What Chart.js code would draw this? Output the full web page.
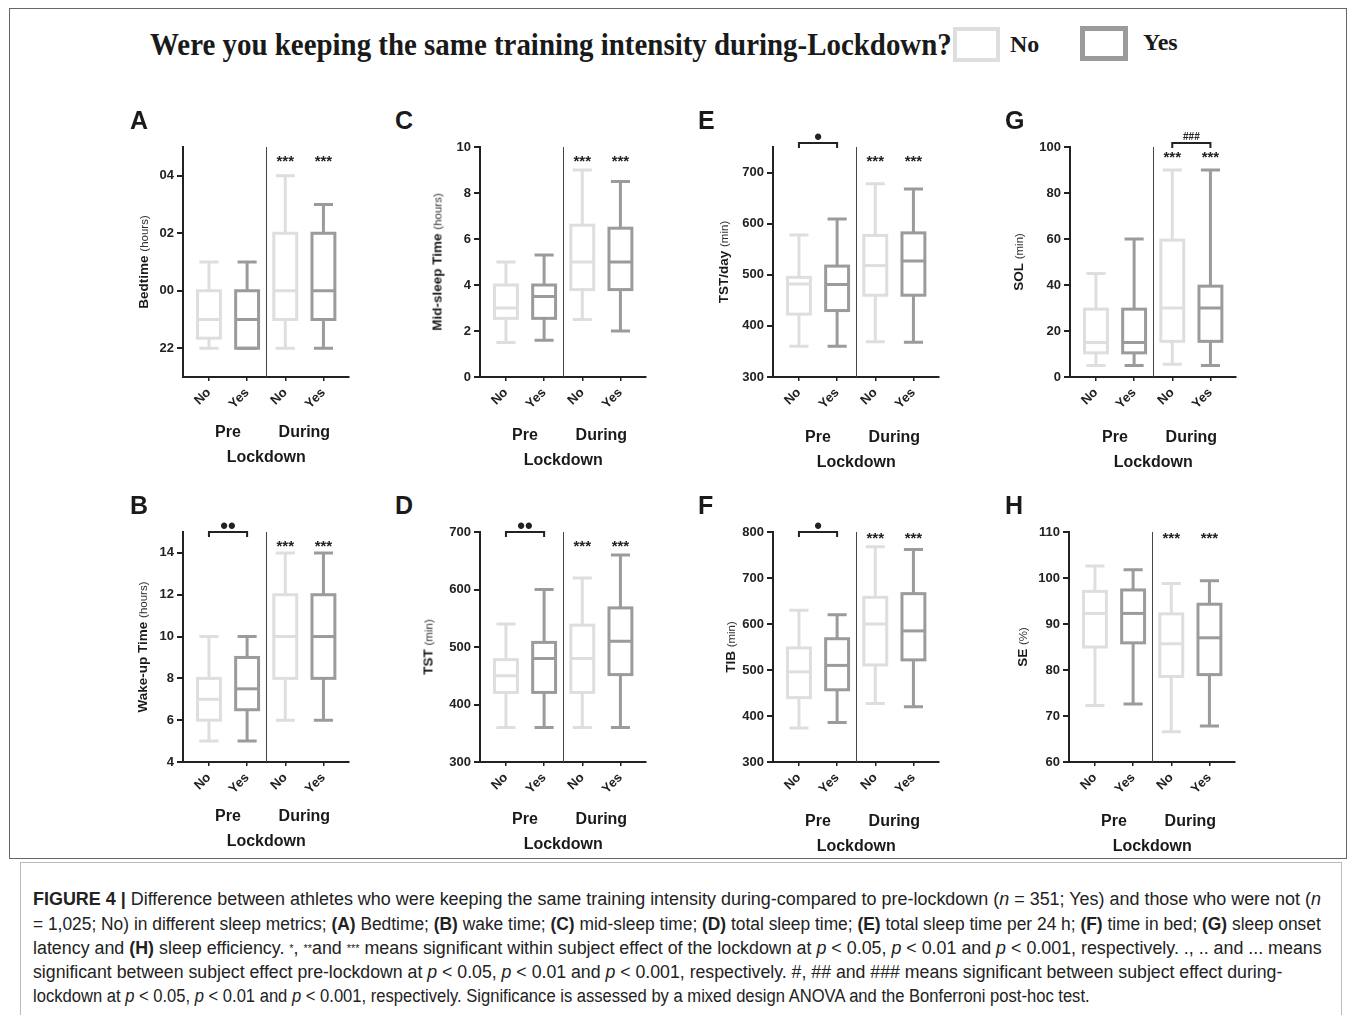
<!DOCTYPE html>
<html>
<head>
<meta charset="utf-8">
<script src="https://cdn.jsdelivr.net/npm/chart.js@4/dist/chart.umd.min.js"></script>
<style>
  body { margin: 0; background: #fff; width: 1355px; height: 1015px; position: relative; overflow: hidden;
         font-family: 'Liberation Sans', Arial, sans-serif; color: #1a1a1a; }
  .abs { position: absolute; white-space: nowrap; }
  .frame { position: absolute; left: 9px; top: 8px; width: 1336px; height: 849px; border: 1px solid #666; }
  .header { font-family: 'Liberation Serif', 'Times New Roman', serif; font-weight: bold; font-size: 31px;
            line-height: 34px; transform-origin: left center; }
  .legbox { position: absolute; box-sizing: border-box; }
  .legtxt { font-family: 'Liberation Serif', 'Times New Roman', serif; font-weight: bold; font-size: 24px; }
  .letter { font-weight: bold; font-size: 25px; line-height: 28px; }
  .ytitle { transform: translate(-50%, -50%) rotate(-90deg); font-size: 13.5px; }
  .ytitle b { font-weight: bold; }
  .ytitle span { font-size: 11.5px; color: #333; }
  .xlab { transform: translate(-50%, -50%); font-weight: bold; font-size: 16px; }
  .panel { position: absolute; }
  .capbox { position: absolute; left: 20px; top: 862px; width: 1320px; height: 170px; border: 1px solid #bbb; }
  .cap { position: absolute; left: 33px; font-size: 18px; line-height: 24px; color: #222; white-space: nowrap;
         transform-origin: left center; }
  .cap b { font-weight: bold; }
  .cap small { font-size: 11px; vertical-align: 2px; }
</style>
</head>
<body>
<div class="frame"></div>
<div id="header" class="abs header" style="left:150px; top:28px;">Were you keeping the same training intensity during-Lockdown?</div>
<div class="legbox" style="left:953px; top:27px; width:47px; height:35px; border:4px solid #dedede;"></div>
<div class="abs legtxt" style="left:1010px; top:31px;">No</div>
<div class="legbox" style="left:1080px; top:26px; width:48px; height:35px; border:5px solid #9b9b9b;"></div>
<div class="abs legtxt" style="left:1143px; top:29px;">Yes</div>

<div class="capbox"></div>
<div class="cap" data-w="1288" style="top:887px;"><b>FIGURE 4 |</b> Difference between athletes who were keeping the same training intensity during-compared to pre-lockdown (<i>n</i> = 351; Yes) and those who were not (<i>n</i></div>
<div class="cap" data-w="1288" style="top:912px;">= 1,025; No) in different sleep metrics; <b>(A)</b> Bedtime; <b>(B)</b> wake time; <b>(C)</b> mid-sleep time; <b>(D)</b> total sleep time; <b>(E)</b> total sleep time per 24 h; <b>(F)</b> time in bed; <b>(G)</b> sleep onset</div>
<div class="cap" data-w="1289" style="top:936px;">latency and <b>(H)</b> sleep efficiency. <small>*</small>, <small>**</small>and <small>***</small> means significant within subject effect of the lockdown at <i>p</i> &lt; 0.05, <i>p</i> &lt; 0.01 and <i>p</i> &lt; 0.001, respectively. ., .. and ... means</div>
<div class="cap" data-w="1249" style="top:960px;">significant between subject effect pre-lockdown at <i>p</i> &lt; 0.05, <i>p</i> &lt; 0.01 and <i>p</i> &lt; 0.001, respectively. #, ## and ### means significant between subject effect during-</div>
<div class="cap" data-w="1057" style="top:984px;">lockdown at <i>p</i> &lt; 0.05, <i>p</i> &lt; 0.01 and <i>p</i> &lt; 0.001, respectively. Significance is assessed by a mixed design ANOVA and the Bonferroni post-hoc test.</div>

<script>
const groups = ['No', 'Yes', 'No', 'Yes'];
const phases = ['Pre', 'During'];
const withinMarks = ['', '', '***', '***'];

// [min, Q1, median, Q3, max] for Pre-No, Pre-Yes, During-No, During-Yes
// bedtime in hours, 24 = 00 (midnight)
const bedtime = [[22, 22.35, 23, 24, 25], [22, 22, 23, 24, 25], [22, 23, 24, 26, 28], [22, 23, 24, 26, 27]];
const wakeTime = [[5, 6, 7, 8, 10], [5, 6.5, 7.5, 9, 10], [6, 8, 10, 12, 14], [6, 8, 10, 12, 14]];
const midSleep = [[1.5, 2.55, 3, 4, 5], [1.6, 2.55, 3.5, 4, 5.3], [2.5, 3.8, 5, 6.6, 9], [2, 3.8, 5, 6.47, 8.5]];
const tst = [[360, 421, 450, 478, 540], [360, 421, 480, 508, 600], [360, 421, 480, 538, 620], [360, 452, 510, 568, 660]];
const tstDay = [[360, 423, 482, 495, 578], [360, 430, 481, 517, 609], [369, 460, 518, 577, 678], [368, 460, 527, 582, 668]];
const tib = [[374, 440, 496, 548, 630], [386, 457, 510, 568, 620], [427, 511, 600, 658, 768], [420, 522, 585, 666, 762]];
const sol = [[5, 10.5, 15, 29.5, 45], [5, 10.5, 15, 29.5, 60], [5.5, 15.5, 30, 59.5, 90], [5, 15.5, 30, 39.5, 90]];
const se = [[72.3, 85, 92.3, 97.1, 102.6], [72.6, 85.9, 92.3, 97.4, 101.8], [66.6, 78.6, 85.7, 92.2, 98.8], [67.8, 79, 87, 94.3, 99.4]];

const bedtimeTicks = [22, 24, 26, 28];
const wakeTicks = [4, 6, 8, 10, 12, 14];
const midSleepTicks = [0, 2, 4, 6, 8, 10];
const tstTicks = [300, 400, 500, 600, 700];
const tibTicks = [300, 400, 500, 600, 700, 800];
const solTicks = [0, 20, 40, 60, 80, 100];
const seTicks = [60, 70, 80, 90, 100, 110];

const FONT = "'Liberation Sans', Arial, sans-serif";
const INK = '#222';
const BOX_COLORS = ['#dedede', '#9b9b9b', '#dedede', '#9b9b9b'];
const AXIS_W = 62, PAD_T = 26, X_H = 56, PAD_R = 6, PLOT_W = 166, PLOT_H = 230;

const clockLabel = (v) => String(v % 24).padStart(2, '0');
const plainLabel = (v) => String(v);

const panels = [
  { key: 'A', data: bedtime, min: 21, max: 29, ticks: bedtimeTicks, fmt: clockLabel, title: 'Bedtime', unit: '(hours)',
    axisX: 183, top: 147, letter: [130, 106], titleX: 143, labelY: 432, starDy: 10 },
  { key: 'C', data: midSleep, min: 0, max: 10, ticks: midSleepTicks, fmt: plainLabel, title: 'Mid-sleep Time', unit: '(hours)',
    axisX: 480, top: 147, letter: [395, 106], titleX: 437, labelY: 435, starDy: 10 },
  { key: 'E', data: tstDay, min: 300, max: 750, ticks: tstTicks, fmt: plainLabel, title: 'TST/day', unit: '(min)',
    axisX: 773, top: 147, letter: [698, 106], titleX: 723, labelY: 437, starDy: 10, pre: '•', bracketDy: -4 },
  { key: 'G', data: sol, min: 0, max: 100, ticks: solTicks, fmt: plainLabel, title: 'SOL', unit: '(min)',
    axisX: 1070, top: 147, letter: [1005, 106], titleX: 1018, labelY: 437, starDy: 6, during: '###', bracketDy: -4 },
  { key: 'B', data: wakeTime, min: 4, max: 15, ticks: wakeTicks, fmt: plainLabel, title: 'Wake-up Time', unit: '(hours)',
    axisX: 183, top: 532, letter: [130, 491], titleX: 142, labelY: 816, starDy: 10, pre: '••', bracketDy: 0 },
  { key: 'D', data: tst, min: 300, max: 700, ticks: tstTicks, fmt: plainLabel, title: 'TST', unit: '(min)',
    axisX: 480, top: 532, letter: [395, 491], titleX: 428, labelY: 819, starDy: 10, pre: '••', bracketDy: 0 },
  { key: 'F', data: tib, min: 300, max: 800, ticks: tibTicks, fmt: plainLabel, title: 'TIB', unit: '(min)',
    axisX: 773, top: 532, letter: [698, 491], titleX: 730, labelY: 821, starDy: 2, pre: '•', bracketDy: 0 },
  { key: 'H', data: se, min: 60, max: 110, ticks: seTicks, fmt: plainLabel, title: 'SE', unit: '(%)',
    axisX: 1069, top: 532, letter: [1005, 491], titleX: 1022, labelY: 821, starDy: 2 }
];

function addText(cls, html, left, top) {
  const el = document.createElement('div');
  el.className = 'abs ' + cls;
  el.innerHTML = html;
  el.style.left = left + 'px';
  el.style.top = top + 'px';
  document.body.appendChild(el);
  return el;
}

function boxPlugin(p) {
  return {
    id: 'boxes' + p.key,
    afterDatasetsDraw(chart) {
      const { ctx, chartArea, scales: { x, y } } = chart;
      ctx.save();
      // pre / during divider
      const xd = Math.round(x.getPixelForValue(1.5)) + 0.5;
      ctx.strokeStyle = '#444';
      ctx.lineWidth = 1;
      ctx.beginPath();
      ctx.moveTo(xd, chartArea.top);
      ctx.lineTo(xd, chartArea.bottom);
      ctx.stroke();

      p.data.forEach((s, i) => {
        const [mn, q1, md, q3, mx] = s;
        const cx = x.getPixelForValue(i);
        const hw = x.getPixelForValue(i + 0.3) - cx;
        const cw = x.getPixelForValue(i + 0.25) - cx;
        ctx.strokeStyle = BOX_COLORS[i];
        ctx.lineWidth = 3;
        ctx.beginPath();
        ctx.moveTo(cx, y.getPixelForValue(mx));
        ctx.lineTo(cx, y.getPixelForValue(q3));
        ctx.moveTo(cx, y.getPixelForValue(q1));
        ctx.lineTo(cx, y.getPixelForValue(mn));
        ctx.moveTo(cx - cw, y.getPixelForValue(mx));
        ctx.lineTo(cx + cw, y.getPixelForValue(mx));
        ctx.moveTo(cx - cw, y.getPixelForValue(mn));
        ctx.lineTo(cx + cw, y.getPixelForValue(mn));
        ctx.stroke();
        const yt = y.getPixelForValue(q3), yb = y.getPixelForValue(q1);
        ctx.strokeRect(cx - hw, yt, hw * 2, yb - yt);
        ctx.beginPath();
        ctx.moveTo(cx - hw, y.getPixelForValue(md));
        ctx.lineTo(cx + hw, y.getPixelForValue(md));
        ctx.stroke();
      });

      // significance marks
      ctx.fillStyle = INK;
      ctx.textAlign = 'center';
      ctx.textBaseline = 'alphabetic';
      ctx.font = 'bold 15px ' + FONT;
      withinMarks.forEach((m, i) => {
        if (m) ctx.fillText(m, x.getPixelForValue(i), chartArea.top + p.starDy + 9);
      });
      const bracket = (a, b, label, font, lift) => {
        const by = chartArea.top + p.bracketDy;
        const xa = x.getPixelForValue(a), xb = x.getPixelForValue(b);
        ctx.strokeStyle = INK;
        ctx.lineWidth = 2;
        ctx.beginPath();
        ctx.moveTo(xa, by + 5);
        ctx.lineTo(xa, by);
        ctx.lineTo(xb, by);
        ctx.lineTo(xb, by + 5);
        ctx.stroke();
        ctx.font = font + FONT;
        ctx.fillText(label, (xa + xb) / 2, by - lift);
      };
      if (p.pre) bracket(0, 1, p.pre, 'bold 22px ', -1);
      if (p.during) bracket(2, 3, p.during, 'bold 10px ', 3);
      ctx.restore();
    }
  };
}

function makePanel(p) {
  const wrap = document.createElement('div');
  wrap.className = 'panel';
  const left = p.axisX - AXIS_W, top = p.top - PAD_T;
  wrap.style.left = left + 'px';
  wrap.style.top = top + 'px';
  const canvas = document.createElement('canvas');
  canvas.width = AXIS_W + PLOT_W + PAD_R;
  canvas.height = PAD_T + PLOT_H + X_H;
  wrap.appendChild(canvas);
  document.body.appendChild(wrap);

  const tickFont = { family: FONT, size: 13, weight: 'bold' };
  const chart = new Chart(canvas, {
    type: 'scatter',
    data: {
      datasets: [{
        data: p.data.map((s, i) => ({ x: i, y: s[2] })),
        pointRadius: 0,
        showLine: false
      }]
    },
    options: {
      responsive: false,
      animation: false,
      events: [],
      layout: { padding: { top: PAD_T, right: PAD_R, left: 0, bottom: 0 } },
      plugins: { legend: { display: false }, tooltip: { enabled: false } },
      scales: {
        x: {
          type: 'linear',
          min: -0.68,
          max: 3.67,
          afterBuildTicks: (s) => { s.ticks = groups.map((g, i) => ({ value: i })); },
          afterFit: (s) => { s.height = X_H; },
          ticks: { callback: (v) => groups[v], minRotation: 45, maxRotation: 45, color: INK, font: tickFont, padding: 4 },
          grid: { drawOnChartArea: false, drawTicks: true, tickLength: 4, color: INK, lineWidth: 1.5 },
          border: { color: INK, width: 2 }
        },
        y: {
          min: p.min,
          max: p.max,
          afterBuildTicks: (s) => { s.ticks = p.ticks.map((v) => ({ value: v })); },
          afterFit: (s) => { s.width = AXIS_W; },
          ticks: { callback: p.fmt, color: INK, font: tickFont, padding: 3 },
          grid: { drawOnChartArea: false, drawTicks: true, tickLength: 6, color: INK, lineWidth: 2 },
          border: { color: INK, width: 2 }
        }
      }
    },
    plugins: [boxPlugin(p)]
  });

  const xs = chart.scales.x, ca = chart.chartArea;
  addText('letter', p.key, p.letter[0], p.letter[1]);
  addText('ytitle', '<b>' + p.title + '</b> <span>' + p.unit + '</span>', p.titleX, top + (ca.top + ca.bottom) / 2);
  addText('xlab', phases[0], left + xs.getPixelForValue(0.5), p.labelY);
  addText('xlab', phases[1], left + xs.getPixelForValue(2.5), p.labelY);
  addText('xlab', 'Lockdown', left + xs.getPixelForValue(1.5), p.labelY + 25);
}

panels.forEach(makePanel);

// fit header and caption lines to their widths in the figure
const header = document.getElementById('header');
header.style.display = 'inline-block';
header.style.transform = 'scaleX(' + (802 / header.offsetWidth) + ')';
document.querySelectorAll('.cap').forEach((el) => {
  el.style.display = 'inline-block';
  el.style.transform = 'scaleX(' + (Number(el.dataset.w) / el.offsetWidth) + ')';
});
</script>
</body>
</html>
